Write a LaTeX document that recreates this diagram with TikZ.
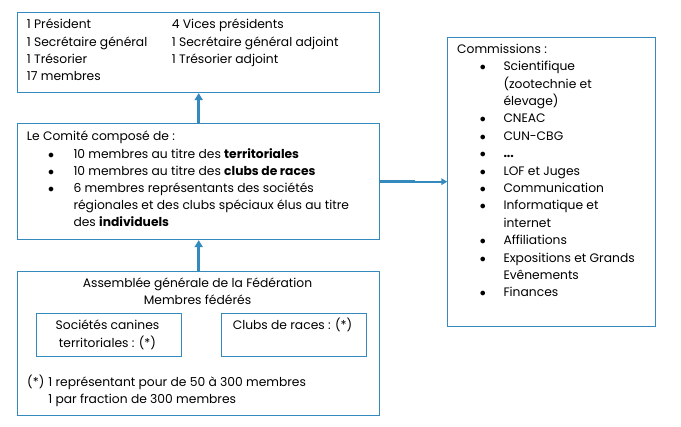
\documentclass[tikz,border=0pt]{standalone}
\usepackage{fontspec}
\setmainfont{Poppins}
\usetikzlibrary{arrows.meta}
\definecolor{bleu}{RGB}{52,138,188}
\newcommand{\puce}{$\bullet$}

\begin{document}
\begin{tikzpicture}[x=1pt,y=-1pt,
    cadre/.style={draw=bleu, line width=0.8pt, inner sep=0pt, anchor=north west},
    texte/.style={inner sep=0pt, anchor=base west, font=\fontsize{12.3}{17.2}\selectfont},
    fleche/.style={draw=bleu, line width=2.8pt, -{Triangle[length=7pt,width=8pt]}}]
    \useasboundingbox (0,0) rectangle (681,427);
    % les cadres
    \node[cadre, minimum width=362pt, minimum height=80pt] (bureau) at (17.3,12.3) {};
    \node[cadre, minimum width=362pt, minimum height=116pt] (comite) at (17.3,123.3) {};
    \node[cadre, minimum width=362pt, minimum height=144pt] (assemblee) at (17.3,271.3) {};
    \node[cadre, minimum width=145pt, minimum height=43pt] (societes) at (35.5,313.3) {};
    \node[cadre, minimum width=145pt, minimum height=43pt] (clubs) at (220.5,313.3) {};
    \node[cadre, minimum width=208pt, minimum height=289pt] (commissions) at (447.3,37.3) {};
    % les textes
    \node[texte] (bureau-g) at (26.7,29) {\begin{tabular}[t]{@{}l@{}}
        1 Président\\ 1 Secrétaire général\\ 1 Trésorier\\ 17 membres\end{tabular}};
    \node[texte] (bureau-d) at (171.7,29) {\begin{tabular}[t]{@{}l@{}}
        4 Vices présidents\\ 1 Secrétaire général adjoint\\ 1 Trésorier adjoint\end{tabular}};
    \node[texte] (comite-txt) at (26.7,141) {\begin{tabular}[t]{@{\hspace{21.3pt}}c@{\hspace{19.3pt}}l@{}}
        \multicolumn{2}{@{}l@{}}{Le Comité composé de :}\\
        \puce & 10 membres au titre des \textbf{territoriales}\\
        \puce & 10 membres au titre des \textbf{clubs de races}\\
        \puce & 6 membres représentants des sociétés\\
        & régionales et des clubs spéciaux élus au titre\\
        & des \textbf{individuels}\end{tabular}};
    \node[texte, anchor=base] (assemblee-txt) at (197.5,287.7) {\begin{tabular}[t]{@{}c@{}}
        Assemblée générale de la Fédération\\ Membres fédérés\end{tabular}};
    \node[texte, anchor=base] (societes-txt) at (107.5,330) {\begin{tabular}[t]{@{}c@{}}
        Sociétés canines\\ territoriales : (*)\end{tabular}};
    \node[texte, anchor=base] (clubs-txt) at (292.5,330) {Clubs de races : (*)};
    \node[texte] (renvoi) at (27,386.7) {\begin{tabular}[t]{@{}l@{\hspace{4pt}}l@{}}
        (*) & 1 représentant pour de 50 à 300 membres\\
        & 1 par fraction de 300 membres\end{tabular}};
    \node[texte, font=\fontsize{12.3}{17.4}\selectfont] (commissions-txt) at (457,53.3) {\begin{tabular}[t]{@{\hspace{22.7pt}}c@{\hspace{17.6pt}}l@{}}
        \multicolumn{2}{@{}l@{}}{Commissions :}\\
        \puce & Scientifique\\
        & (zootechnie et\\
        & élevage)\\
        \puce & CNEAC\\
        \puce & CUN-CBG\\
        \puce & \textbf{...}\\
        \puce & LOF et Juges\\
        \puce & Communication\\
        \puce & Informatique et\\
        & internet\\
        \puce & Affiliations\\
        \puce & Expositions et Grands\\
        & Evênements\\
        \puce & Finances\end{tabular}};
    % les fleches
    \coordinate (relais) at ([xshift=35pt]comite.east);
    \draw[fleche] (assemblee.north) -- (comite.south);
    \draw[fleche] (comite.north) -- (bureau.south);
    \draw[bleu, line width=2.8pt] (comite.east) -- (relais);
    \draw[fleche, line width=1.8pt, -{Triangle[length=6pt,width=6.5pt]}] (relais) -- (relais -| commissions.west);
\end{tikzpicture}
\end{document}
